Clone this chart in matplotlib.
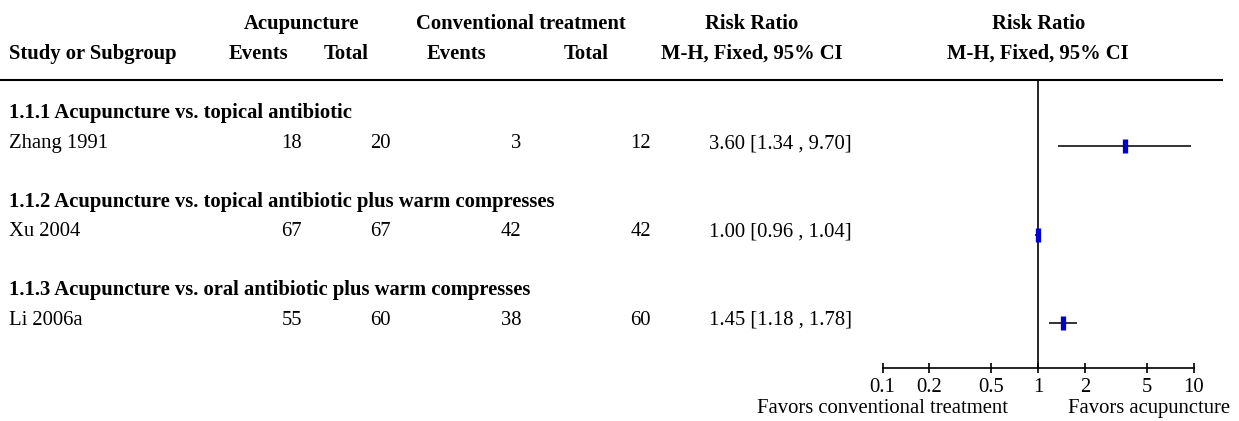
import matplotlib
matplotlib.use('Agg')
import matplotlib.pyplot as plt
import numpy as np

plt.rcParams['font.family'] = ['Liberation Serif', 'DejaVu Serif']

subgroups = ['1.1.1 Acupuncture vs. topical antibiotic',
             '1.1.2 Acupuncture vs. topical antibiotic plus warm compresses',
             '1.1.3 Acupuncture vs. oral antibiotic plus warm compresses']
studies = ['Zhang 1991', 'Xu 2004', 'Li 2006a']
acu_events = [18, 67, 55]
acu_total = [20, 67, 60]
conv_events = [3, 42, 38]
conv_total = [12, 42, 60]
rr = [3.60, 1.00, 1.45]
ci_lo = [1.34, 0.96, 1.18]
ci_hi = [9.70, 1.04, 1.78]
ticks = [0.1, 0.2, 0.5, 1, 2, 5, 10]
tick_labels = ['0.1', '0.2', '0.5', '1', '2', '5', '10']

W, H = 1239, 421
FS = 14.9
fig = plt.figure(figsize=(W / 100, H / 100), dpi=100)

# whole-figure axes in pixel units for the table part
ax = fig.add_axes([0, 0, 1, 1])
ax.set_xlim(0, W)
ax.set_ylim(H, 0)
ax.axis('off')

def txt(x, y, s, ha='left', bold=False):
    ax.text(x, y, s, ha=ha, va='baseline', fontsize=FS,
            fontweight='bold' if bold else 'normal', color='black')

# headers
txt(302, 29, 'Acupuncture', 'center', True)
txt(521, 29, 'Conventional treatment', 'center', True)
txt(752, 29, 'Risk Ratio', 'center', True)
txt(1039, 29, 'Risk Ratio', 'center', True)
txt(9, 59, 'Study or Subgroup', 'left', True)
txt(258, 59, 'Events', 'center', True)
txt(346, 59, 'Total', 'center', True)
txt(456, 59, 'Events', 'center', True)
txt(586, 59, 'Total', 'center', True)
txt(752, 59, 'M-H, Fixed, 95% CI', 'center', True)
txt(1038, 59, 'M-H, Fixed, 95% CI', 'center', True)
ax.plot([0, 1223], [80, 80], color='black', lw=1.5, solid_capstyle='butt')

row_y = []
for i in range(len(studies)):
    y0 = 118 + 88.5 * i
    y1 = y0 + 30
    row_y.append(y1 - 2)
    txt(9, y0, subgroups[i], bold=True)
    txt(9, y1, studies[i])
    txt(302, y1, str(acu_events[i]), 'right')
    txt(391, y1, str(acu_total[i]), 'right')
    txt(521, y1, str(conv_events[i]), 'right')
    txt(651, y1, str(conv_total[i]), 'right')
    txt(709, y1, '{:.2f} [{:.2f} , {:.2f}]'.format(rr[i], ci_lo[i], ci_hi[i]))

txt(1008, 413, 'Favors conventional treatment', 'right')
txt(1068, 413, 'Favors acupuncture', 'left')

# forest plot
x0, x1, ytop, ybot = 882.5, 1193.5, 80, 368
fx = fig.add_axes([x0 / W, 1 - ybot / H, (x1 - x0) / W, (ybot - ytop) / H])
fx.patch.set_alpha(0)
fx.set_xscale('log')
fx.set_xlim(0.1, 10)
fx.set_ylim(ybot, ytop)
for s in ['top', 'left', 'right']:
    fx.spines[s].set_visible(False)
fx.spines['bottom'].set_linewidth(1.2)
fx.set_yticks([])
fx.set_xticks(ticks)
fx.set_xticklabels(tick_labels)
fx.minorticks_off()
fx.tick_params(axis='x', direction='inout', length=7.5, width=1.2,
               labelsize=FS, pad=3.5, colors='black')
fx.axvline(1, color='black', lw=1.2)

for i in range(len(rr)):
    fx.plot([ci_lo[i], ci_hi[i]], [row_y[i], row_y[i]], color='#333333',
            lw=1.4, solid_capstyle='butt')
    fx.plot(rr[i], row_y[i], marker='|', markersize=9.5, markeredgewidth=3.8,
            color='#0000cc', linestyle='none')

fig.savefig('out.png', dpi=100)
